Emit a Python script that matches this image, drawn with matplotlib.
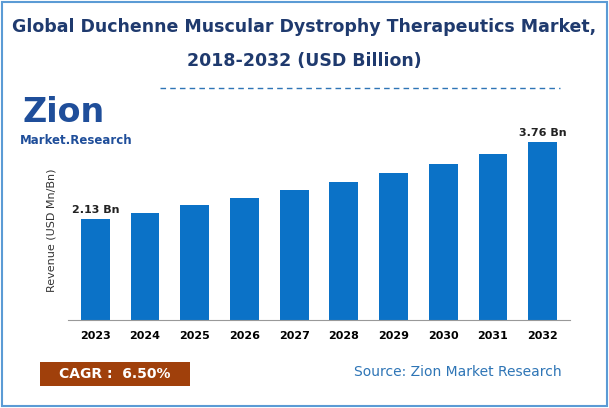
import matplotlib
matplotlib.use("Agg")
import matplotlib.pyplot as plt
from matplotlib.patches import Rectangle

years = ["2023","2024","2025","2026","2027","2028","2029","2030","2031","2032"]
values = [2.13, 2.27, 2.43, 2.58, 2.75, 2.92, 3.11, 3.31, 3.52, 3.76]
first_label = "2.13 Bn"
last_label = "3.76 Bn"

W, H = 609, 408
fig = plt.figure(figsize=(W/100, H/100), dpi=100)
fig.patches.append(Rectangle((0.003, 0.005), 0.994, 0.99, transform=fig.transFigure,
                             fill=False, edgecolor="#5B9BD5", lw=1.5))
fig.text(0.5, 0.935, "Global Duchenne Muscular Dystrophy Therapeutics Market,",
         ha="center", va="center", fontsize=12.5, fontweight="bold", color="#1F3A6E")
fig.text(0.5, 0.85, "2018-2032 (USD Billion)",
         ha="center", va="center", fontsize=12.5, fontweight="bold", color="#1F3A6E")
fig.add_artist(plt.Line2D([160/W, 560/W], [1-88/H, 1-88/H], transform=fig.transFigure,
                          color="#2E75B6", ls=(0, (4, 3)), lw=1))
# logo
fig.text(22/W, 1-112/H, "Zion", fontsize=24, fontweight="bold", color="#1F4E9A", va="center")
fig.text(20/W, 1-140/H, "Market.Research", fontsize=8.5, fontweight="bold", color="#1F4E9A", va="center")

ax = fig.add_axes([68/W, 1-320/H, (570-68)/W, (320-140)/H])
x = range(len(years))
ax.bar(x, values, width=0.58, color="#0B72C7")
ax.set_xlim(-0.55, len(years)-0.45)
ax.set_ylim(0, max(values)*1.0 + 0.05)
ax.set_xticks(list(x))
ax.set_xticklabels(years, fontsize=8, fontweight="bold")
ax.tick_params(axis="x", length=0, pad=8)
ax.set_yticks([])
for s in ["top", "right", "left"]:
    ax.spines[s].set_visible(False)
ax.spines["bottom"].set_color("#999999")
ax.set_ylabel("Revenue (USD Mn/Bn)", fontsize=8, color="#333333", labelpad=8)
ax.text(0, values[0]+0.1, first_label, ha="center", va="bottom", fontsize=8, fontweight="bold", color="#222222")
ax.text(len(years)-1, values[-1]+0.1, last_label, ha="center", va="bottom", fontsize=8, fontweight="bold", color="#222222")
ax.set_clip_on(False)

fig.patches.append(Rectangle((40/W, 1-386/H), 150/W, 24/H, transform=fig.transFigure,
                             facecolor="#A0400B", edgecolor="none"))
fig.text(115/W, 1-374/H, "CAGR :  6.50%", ha="center", va="center", fontsize=10,
         fontweight="bold", color="white")
fig.text(562/W, 1-372/H, "Source: Zion Market Research", ha="right", va="center",
         fontsize=10, color="#2E75B6")
fig.savefig("out.png", dpi=100)
